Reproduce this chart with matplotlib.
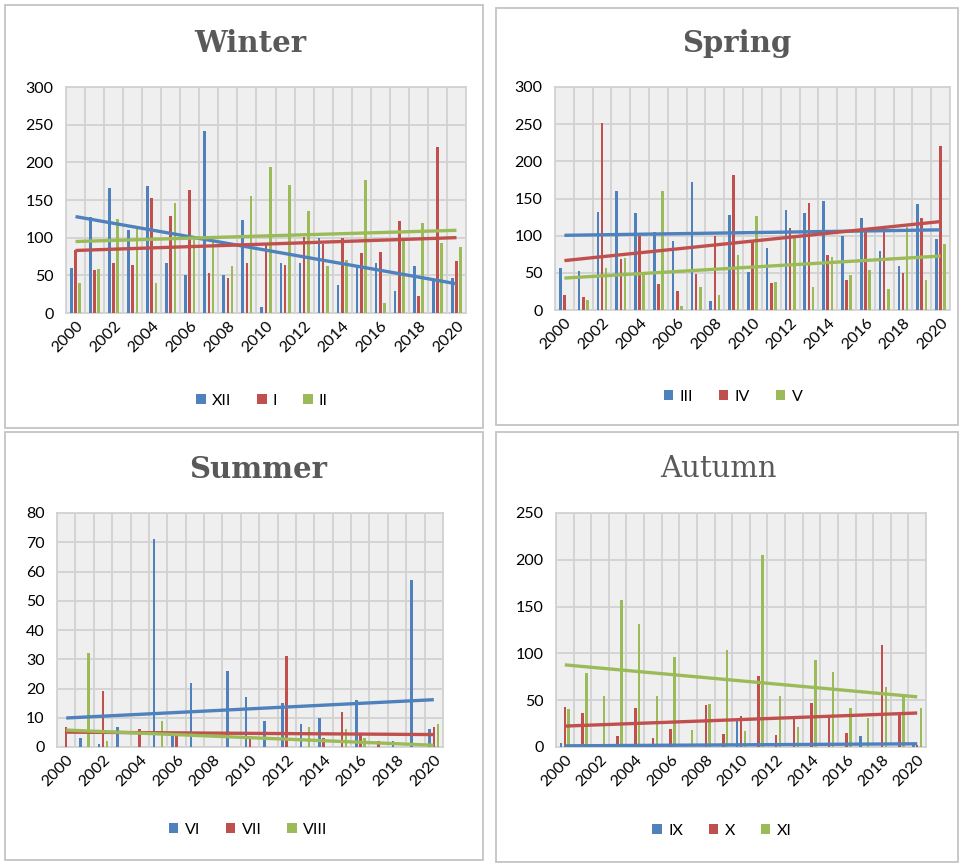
import numpy as np
import matplotlib
matplotlib.use("Agg")
import matplotlib.pyplot as plt
from matplotlib.patches import Rectangle

plt.rcParams['font.family'] = ['Lato', 'DejaVu Sans']

# Years on the x axis
years = list(range(2000, 2021))

# Winter months (XII, I, II)
xii = [60, 127, 166, 110, 169, 67, 51, 241, 50, 123, 8, 67, 67, 99, 37, 61, 67, 29, 63, 43, 46]
jan = [83, 57, 67, 64, 153, 129, 163, 53, 46, 67, 92, 64, 101, 91, 99, 79, 81, 122, 22, 220, 69]
feb = [40, 59, 125, 111, 40, 146, 99, 94, 62, 155, 194, 170, 135, 63, 71, 177, 13, 95, 120, 93, 87]

# Spring months (III, IV, V)
mar = [56, 52, 132, 160, 131, 105, 93, 172, 12, 128, 51, 83, 134, 131, 147, 100, 124, 79, 59, 143, 95]
apr = [20, 18, 251, 69, 100, 35, 25, 48, 100, 181, 91, 36, 110, 144, 74, 40, 105, 105, 50, 124, 221]
may = [0, 13, 56, 70, 48, 160, 6, 31, 20, 74, 126, 38, 99, 31, 71, 47, 54, 28, 111, 41, 89]

# Summer months (VI, VII, VIII)
jun = [0, 3, 1, 7, 0, 71, 4, 22, 0, 26, 17, 9, 15, 8, 10, 0, 16, 0, 2, 57, 6]
jul = [7, 0, 19, 0, 6, 0, 4, 0, 0, 0, 3, 0, 31, 0, 3, 12, 4, 2, 0, 0, 7]
aug = [0, 32, 2, 0, 0, 9, 0, 0, 0, 0, 0, 0, 0, 7, 0, 6, 3, 0, 0, 0, 8]

# Autumn months (IX, X, XI)
sep = [4, 0, 0, 0, 0, 0, 0, 0, 0, 0, 29, 0, 0, 0, 0, 0, 0, 12, 0, 0, 4]
octo = [43, 36, 0, 12, 42, 10, 19, 0, 45, 14, 33, 76, 13, 31, 47, 32, 15, 0, 109, 37, 2]
nov = [41, 79, 55, 157, 131, 54, 96, 18, 46, 104, 17, 205, 54, 21, 93, 80, 42, 31, 64, 54, 42]

colors = ["#4F81BD", "#C0504D", "#9BBB59"]
W, H = 961, 864

fig = plt.figure(figsize=(W / 100, H / 100), dpi=100)

# grey frames around each of the four pictures
for x0, y0, x1, y1 in [(5, 5, 483, 428), (496, 8, 958, 425), (5, 432, 483, 860), (496, 432, 958, 862)]:
    fig.patches.append(Rectangle((x0 / W, 1 - y1 / H), (x1 - x0) / W, (y1 - y0) / H,
                                 transform=fig.transFigure, fill=False,
                                 edgecolor="#c4c4c4", linewidth=1.3))


def panel(box, title, title_xy, bold, series, labels, ymax, ystep, legend_xy):
    left, top, right, bottom = box
    ax = fig.add_axes([left / W, 1 - bottom / H, (right - left) / W, (bottom - top) / H])
    ax.set_facecolor("#efefef")
    x = np.arange(len(years))
    handles = []
    for k, (vals, col) in enumerate(zip(series, colors)):
        b = ax.bar(x + (k - 1) * 0.22, vals, width=0.14, color=col, zorder=3)
        handles.append(b)
    # linear trend lines
    for vals, col in zip(series, colors):
        m, c = np.polyfit(x, vals, 1)
        ax.plot(x, m * x + c, color=col, linewidth=2.4, zorder=4, solid_capstyle="butt")

    ax.set_xlim(-0.5, len(years) - 0.5)
    ax.set_ylim(0, ymax)
    ax.set_yticks(np.arange(0, ymax + 1, ystep))
    ax.set_xticks(x[::2])
    ax.set_xticklabels([str(y) for y in years[::2]], rotation=45, ha="right",
                       rotation_mode="anchor", fontsize=11.5)
    ax.set_xticks(np.arange(-0.5, len(years), 1), minor=True)
    ax.tick_params(axis="y", labelsize=11.5, length=0, pad=9)
    ax.tick_params(axis="x", which="both", length=0, pad=4)
    ax.grid(axis="y", color="#d2d2d2", linewidth=1.3, zorder=1)
    ax.grid(axis="x", which="minor", color="#d2d2d2", linewidth=1.3, zorder=1)
    ax.grid(axis="x", which="major", visible=False)
    for s in ax.spines.values():
        s.set_color("#d2d2d2")
        s.set_linewidth(1.3)

    fig.text(title_xy[0] / W, 1 - title_xy[1] / H, title, ha="center", va="center",
             fontsize=21, family="DejaVu Serif", color="#595959",
             fontweight="bold" if bold else "normal")
    fig.legend(handles, labels, loc="center", bbox_to_anchor=(legend_xy[0] / W, 1 - legend_xy[1] / H),
               ncol=3, frameon=False, fontsize=11.5, handlelength=0.6, handleheight=0.6,
               handletextpad=0.4, columnspacing=1.6)
    return ax


panel((66, 87, 466, 313), "Winter", (250, 43), True, [xii, jan, feb], ["XII", "I", "II"], 300, 50, (262, 401))
panel((555, 87, 950, 310), "Spring", (737, 44), True, [mar, apr, may], ["III", "IV", "V"], 300, 50, (733, 397))
panel((57, 513, 443, 747), "Summer", (258, 470), True, [jun, jul, aug], ["VI", "VII", "VIII"], 80, 10, (248, 830))
panel((556, 513, 926, 747), "Autumn", (718, 469), False, [sep, octo, nov], ["IX", "X", "XI"], 250, 50, (722, 831))

fig.savefig("out.png", dpi=100)
